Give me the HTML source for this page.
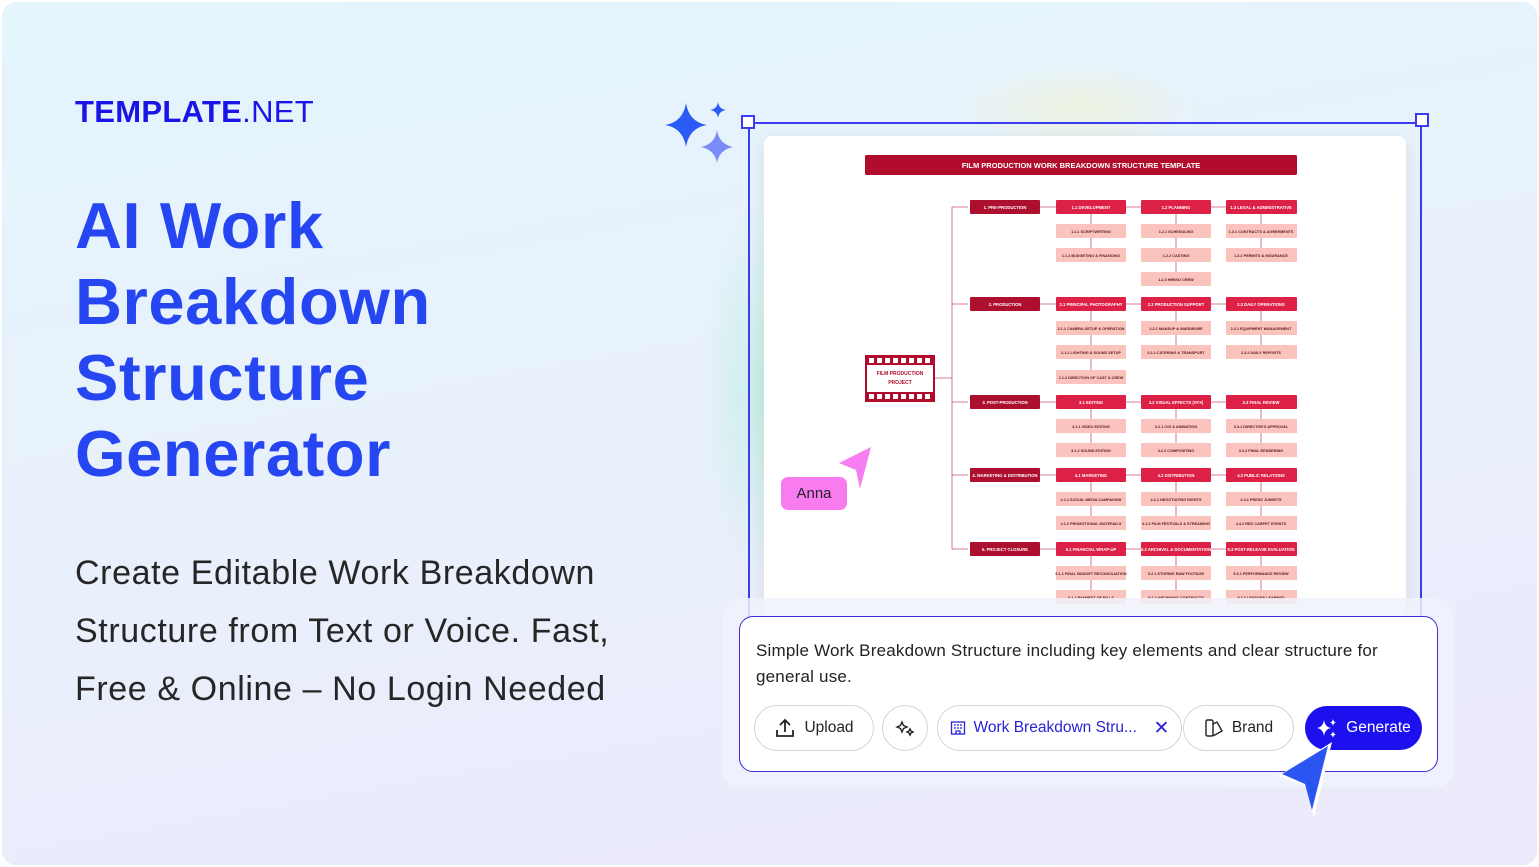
<!DOCTYPE html>
<html><head><meta charset="utf-8"><style>
*{margin:0;padding:0;box-sizing:border-box}
body{width:1539px;height:867px;overflow:hidden;font-family:"Liberation Sans",sans-serif;background:#fff;position:relative}
.bg{position:absolute;left:2px;top:2px;width:1535px;height:863px;border-radius:14px;background:linear-gradient(170deg,#e4f5fc 0%,#e8f1fb 45%,#ece9fb 100%);overflow:hidden}
.glow{position:absolute;left:700px;top:200px;width:120px;height:380px;background:radial-gradient(ellipse,rgba(150,235,200,.4),rgba(150,235,200,0) 70%)}
.glow2{position:absolute;left:950px;top:60px;width:250px;height:90px;background:radial-gradient(ellipse,rgba(250,240,170,.35),rgba(250,240,170,0) 70%)}
.logo{position:absolute;left:75px;top:94px;font-size:31px;color:#1a14e6;letter-spacing:.3px}
.logo b{font-weight:900}
h1{position:absolute;left:75px;top:188px;font-size:65px;line-height:76px;color:#2646f2;font-weight:bold;letter-spacing:.6px}
.sub{position:absolute;left:75px;top:544px;font-size:34px;line-height:58px;color:#262626;letter-spacing:.6px}
.card{position:absolute;left:764px;top:136px;width:642px;height:480px;background:#fff;border-radius:8px;box-shadow:0 4px 20px rgba(0,0,0,.08)}
.frame{position:absolute;left:748px;top:122px;width:674px;height:500px;border:2px solid #3b3bf0;border-bottom:none}
.h{position:absolute;width:14px;height:14px;background:#fff;border:2px solid #3b3bf0}
.panel{position:absolute;left:722px;top:598px;width:732px;height:190px;background:rgba(240,242,252,.85);border-radius:20px}
.inbox{position:absolute;left:739px;top:616px;width:699px;height:156px;background:#fff;border:1.5px solid #3a2fd8;border-radius:14px}
.ptxt{position:absolute;left:16px;top:21px;font-size:17px;line-height:26px;color:#222;width:655px;letter-spacing:.2px}
.btn{position:absolute;top:88px;height:46px;border:1.5px solid #d8d8dc;border-radius:23px;font-size:15.5px;color:#222;display:flex;align-items:center;justify-content:center;gap:8px;background:#fff}
.gen{background:#1d10ee;color:#fff;border:none}
.anna{position:absolute;left:781px;top:477px;width:66px;height:33px;background:#f87cf0;border-radius:7px;font-size:15px;color:#222;text-align:center;line-height:33px}
</style></head><body>
<div class="bg">
<div class="glow"></div><div class="glow2"></div>
</div>
<div class="logo"><b>TEMPLATE</b>.NET</div>
<h1>AI Work<br>Breakdown<br>Structure<br>Generator</h1>
<div class="sub">Create Editable Work Breakdown<br>Structure from Text or Voice. Fast,<br>Free &amp; Online – No Login Needed</div>

<svg style="position:absolute;left:0;top:0" width="1539" height="867">
<path d="M686 103 Q689 122 707 125 Q689 128 686 147 Q683 128 665 125 Q683 122 686 103Z" fill="#2a5cf5"/>
<path d="M718 102 Q719 109 726 110 Q719 111 718 118 Q717 111 710 110 Q717 109 718 102Z" fill="#2a5cf5"/>
<path d="M717 130 Q719 144 733 147 Q719 150 717 163 Q715 150 701 147 Q715 144 717 130Z" fill="#7a8cf8"/>
</svg>

<div class="card"></div>
<div class="frame"></div>
<div class="h" style="left:741px;top:115px"></div>
<div class="h" style="left:1415px;top:113px"></div>

<svg style="position:absolute;left:0;top:0" width="1539" height="867" font-family="Liberation Sans Narrow,Liberation Sans,sans-serif" font-weight="bold" font-size="4.2" text-anchor="middle">
<defs><clipPath id="c"><rect x="764" y="136" width="642" height="470"/></clipPath></defs>
<g clip-path="url(#c)">
<rect x="865" y="155" width="432" height="20" rx="1.5" fill="#b10c2c"/>
<text x="1081" y="168" fill="#fff" font-size="7.5">FILM PRODUCTION WORK BREAKDOWN STRUCTURE TEMPLATE</text>
<rect x="866" y="356" width="68" height="45" fill="#fff" stroke="#b10c2c" stroke-width="2"/>
<rect x="866" y="356" width="68" height="9" fill="#b10c2c"/><rect x="866" y="392" width="68" height="9" fill="#b10c2c"/>
<g fill="#fff"><rect x="869" y="358" width="5" height="5"/><rect x="877" y="358" width="5" height="5"/><rect x="885" y="358" width="5" height="5"/><rect x="893" y="358" width="5" height="5"/><rect x="901" y="358" width="5" height="5"/><rect x="909" y="358" width="5" height="5"/><rect x="917" y="358" width="5" height="5"/><rect x="925" y="358" width="5" height="5"/>
<rect x="869" y="394" width="5" height="5"/><rect x="877" y="394" width="5" height="5"/><rect x="885" y="394" width="5" height="5"/><rect x="893" y="394" width="5" height="5"/><rect x="901" y="394" width="5" height="5"/><rect x="909" y="394" width="5" height="5"/><rect x="917" y="394" width="5" height="5"/><rect x="925" y="394" width="5" height="5"/></g>
<text x="900" y="375" fill="#b10c2c" font-size="5">FILM PRODUCTION</text><text x="900" y="384" fill="#b10c2c" font-size="5">PROJECT</text>
<g stroke="#c8576e" stroke-width="0.8" fill="none">
<path d="M935 378 H952 M952 207 V549 M952 207 H968 M952 304 H968 M952 402 H968 M952 475 H968 M952 549 H968"/>
<path d="M1040 207H1226M1040 304H1226M1040 402H1226M1040 475H1226M1040 549H1226"/>
<path d="M1091 207V255M1176 207V279M1261 207V255M1091 304V377M1176 304V353M1261 304V353M1091 402V450M1176 402V450M1261 402V450M1091 475V523M1176 475V523M1261 475V523M1091 549V600M1176 549V600M1261 549V600"/>
</g>
<g fill="#ad0f2e">
<rect x="970" y="200" width="70" height="14" rx="1"/><rect x="970" y="297" width="70" height="14" rx="1"/><rect x="970" y="395" width="70" height="14" rx="1"/><rect x="970" y="468" width="70" height="14" rx="1"/><rect x="970" y="542" width="70" height="14" rx="1"/>
</g>
<g fill="#dc2046">
<rect x="1056" y="200" width="70" height="14" rx="1"/><rect x="1141" y="200" width="70" height="14" rx="1"/><rect x="1226" y="200" width="71" height="14" rx="1"/>
<rect x="1056" y="297" width="70" height="14" rx="1"/><rect x="1141" y="297" width="70" height="14" rx="1"/><rect x="1226" y="297" width="71" height="14" rx="1"/>
<rect x="1056" y="395" width="70" height="14" rx="1"/><rect x="1141" y="395" width="70" height="14" rx="1"/><rect x="1226" y="395" width="71" height="14" rx="1"/>
<rect x="1056" y="468" width="70" height="14" rx="1"/><rect x="1141" y="468" width="70" height="14" rx="1"/><rect x="1226" y="468" width="71" height="14" rx="1"/>
<rect x="1056" y="542" width="70" height="14" rx="1"/><rect x="1141" y="542" width="70" height="14" rx="1"/><rect x="1226" y="542" width="71" height="14" rx="1"/>
</g>
<g fill="#fbc3bd">
<rect x="1056" y="224" width="70" height="14"/><rect x="1056" y="248" width="70" height="14"/>
<rect x="1141" y="224" width="70" height="14"/><rect x="1141" y="248" width="70" height="14"/><rect x="1141" y="272" width="70" height="14"/>
<rect x="1226" y="224" width="71" height="14"/><rect x="1226" y="248" width="71" height="14"/>
<rect x="1056" y="321" width="70" height="14"/><rect x="1056" y="345" width="70" height="14"/><rect x="1056" y="370" width="70" height="14"/>
<rect x="1141" y="321" width="70" height="14"/><rect x="1141" y="345" width="70" height="14"/>
<rect x="1226" y="321" width="71" height="14"/><rect x="1226" y="345" width="71" height="14"/>
<rect x="1056" y="419" width="70" height="14"/><rect x="1056" y="443" width="70" height="14"/>
<rect x="1141" y="419" width="70" height="14"/><rect x="1141" y="443" width="70" height="14"/>
<rect x="1226" y="419" width="71" height="14"/><rect x="1226" y="443" width="71" height="14"/>
<rect x="1056" y="492" width="70" height="14"/><rect x="1056" y="516" width="70" height="14"/>
<rect x="1141" y="492" width="70" height="14"/><rect x="1141" y="516" width="70" height="14"/>
<rect x="1226" y="492" width="71" height="14"/><rect x="1226" y="516" width="71" height="14"/>
<rect x="1056" y="566" width="70" height="14"/><rect x="1056" y="590" width="70" height="14"/>
<rect x="1141" y="566" width="70" height="14"/><rect x="1141" y="590" width="70" height="14"/>
<rect x="1226" y="566" width="71" height="14"/><rect x="1226" y="590" width="71" height="14"/>
</g>
<g fill="#fff">
<text x="1005" y="209">1. PRE-PRODUCTION</text><text x="1005" y="306">2. PRODUCTION</text><text x="1005" y="404">3. POST-PRODUCTION</text><text x="1005" y="477">4. MARKETING &amp; DISTRIBUTION</text><text x="1005" y="551">5. PROJECT CLOSURE</text>
<text x="1091" y="209">1.1 DEVELOPMENT</text><text x="1176" y="209">1.2 PLANNING</text><text x="1261" y="209">1.3 LEGAL &amp; ADMINISTRATIVE</text>
<text x="1091" y="306">2.1 PRINCIPAL PHOTOGRAPHY</text><text x="1176" y="306">2.2 PRODUCTION SUPPORT</text><text x="1261" y="306">2.3 DAILY OPERATIONS</text>
<text x="1091" y="404">3.1 EDITING</text><text x="1176" y="404">3.2 VISUAL EFFECTS (VFX)</text><text x="1261" y="404">3.3 FINAL REVIEW</text>
<text x="1091" y="477">4.1 MARKETING</text><text x="1176" y="477">4.2 DISTRIBUTION</text><text x="1261" y="477">4.3 PUBLIC RELATIONS</text>
<text x="1091" y="551">5.1 FINANCIAL WRAP-UP</text><text x="1176" y="551">5.2 ARCHIVAL &amp; DOCUMENTATION</text><text x="1261" y="551">5.3 POST-RELEASE EVALUATION</text>
</g>
<g fill="#5a2020" font-size="3.8">
<text x="1091" y="233">1.1.1 SCRIPTWRITING</text><text x="1091" y="257">1.1.2 BUDGETING &amp; FINANCING</text>
<text x="1176" y="233">1.2.1 SCHEDULING</text><text x="1176" y="257">1.2.2 CASTING</text><text x="1176" y="281">1.2.3 HIRING CREW</text>
<text x="1261" y="233">1.3.1 CONTRACTS &amp; AGREEMENTS</text><text x="1261" y="257">1.3.2 PERMITS &amp; INSURANCE</text>
<text x="1091" y="330">2.1.1 CAMERA SETUP &amp; OPERATION</text><text x="1091" y="354">2.1.2 LIGHTING &amp; SOUND SETUP</text><text x="1091" y="379">2.1.3 DIRECTION OF CAST &amp; CREW</text>
<text x="1176" y="330">2.2.1 MAKEUP &amp; WARDROBE</text><text x="1176" y="354">2.2.2 CATERING &amp; TRANSPORT</text>
<text x="1261" y="330">2.3.1 EQUIPMENT MANAGEMENT</text><text x="1261" y="354">2.3.2 DAILY REPORTS</text>
<text x="1091" y="428">3.1.1 VIDEO EDITING</text><text x="1091" y="452">3.1.2 SOUND EDITING</text>
<text x="1176" y="428">3.2.1 CGI &amp; ANIMATION</text><text x="1176" y="452">3.2.2 COMPOSITING</text>
<text x="1261" y="428">3.3.1 DIRECTOR'S APPROVAL</text><text x="1261" y="452">3.3.2 FINAL RENDERING</text>
<text x="1091" y="501">4.1.1 SOCIAL MEDIA CAMPAIGNS</text><text x="1091" y="525">4.1.2 PROMOTIONAL MATERIALS</text>
<text x="1176" y="501">4.2.1 NEGOTIATING RIGHTS</text><text x="1176" y="525">4.2.2 FILM FESTIVALS &amp; STREAMING</text>
<text x="1261" y="501">4.3.1 PRESS JUNKETS</text><text x="1261" y="525">4.3.2 RED CARPET EVENTS</text>
<text x="1091" y="575">5.1.1 FINAL BUDGET RECONCILIATION</text><text x="1091" y="599">5.1.2 PAYMENT OF BILLS</text>
<text x="1176" y="575">5.2.1 STORING RAW FOOTAGE</text><text x="1176" y="599">5.2.2 ARCHIVING CONTRACTS</text>
<text x="1261" y="575">5.3.1 PERFORMANCE REVIEW</text><text x="1261" y="599">5.3.2 LESSONS LEARNED</text>
</g>
</g>
</svg>

<div class="anna">Anna</div>
<svg style="position:absolute;left:835px;top:445px" width="45" height="60"><path d="M6 20 L38 4 L27 50 L22 27Z" fill="#fff" opacity=".8"/><path d="M4 18 L36 2 L25 44 L21 25Z" fill="#f77ef0"/></svg>

<div class="panel"></div>
<div class="inbox">
<div class="ptxt">Simple Work Breakdown Structure including key elements and clear structure for general use.</div>
<div class="btn" style="left:14px;width:120px"><svg width="22" height="22" viewBox="0 0 22 22" fill="none" stroke="#222" stroke-width="1.8"><path d="M11 15V3M6 8l5-5 5 5M3 13v6h16v-6"/></svg>Upload</div>
<div class="btn" style="left:142px;width:46px"><svg width="20" height="20" viewBox="0 0 20 20" fill="none" stroke="#222" stroke-width="1.4"><path d="M7 4l1.5 3.5L12 9l-3.5 1.5L7 14l-1.5-3.5L2 9l3.5-1.5z"/><path d="M15 11l1 2 2 1-2 1-1 2-1-2-2-1 2-1z"/></svg></div>
<div class="btn" style="left:197px;width:245px;color:#2a22d8"><svg width="16" height="16" viewBox="0 0 16 16" fill="none" stroke="#2a22d8" stroke-width="1.3"><rect x="1.5" y="2" width="13" height="12"/><path d="M4 5h2M7 5h2M10 5h2M4 8h2M7 8h2M10 8h2M6 14v-3h4v3"/></svg>Work Breakdown Stru...&nbsp;&nbsp;<span style="font-size:19px">✕</span></div>
<div class="btn" style="left:443px;width:111px"><svg width="20" height="20" viewBox="0 0 20 20" fill="none" stroke="#222" stroke-width="1.4"><rect x="2" y="2" width="7" height="16" rx="1.5"/><path d="M9 6l4-2 5 9-9 5"/></svg>Brand</div>
<div class="btn gen" style="left:565px;top:89px;width:117px;height:44px"><svg width="22" height="22" viewBox="0 0 22 22" fill="#fff"><path d="M8 3 Q9 10 15 11 Q9 12 8 19 Q7 12 1 11 Q7 10 8 3Z"/><path d="M17 2 Q17.5 5 20 5.5 Q17.5 6 17 9 Q16.5 6 14 5.5 Q16.5 5 17 2Z"/><path d="M17 14 Q17.5 17 20 17.5 Q17.5 18 17 21 Q16.5 18 14 17.5 Q16.5 17 17 14Z"/></svg>Generate</div>
</div>
<svg style="position:absolute;left:1270px;top:730px" width="80" height="100"><path d="M8 46 L62 12 L44 88 L36 56Z" fill="#fff"/><path d="M12 44 L58 16 L42 80 L35 54Z" fill="#2a55f0"/></svg>
</body></html>
